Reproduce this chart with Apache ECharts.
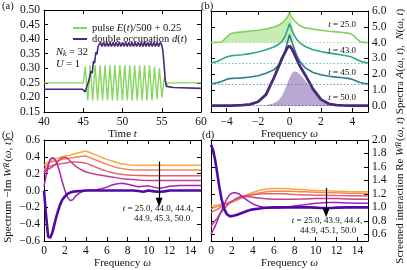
<!DOCTYPE html>
<html><head><meta charset="utf-8">
<script src="https://cdn.jsdelivr.net/npm/echarts@6/dist/echarts.min.js"></script>
<style>html,body{margin:0;padding:0;background:#fff}#c{width:407px;height:270px}</style>
</head><body><div id="c"></div>
<script>
// ---------- Panel (a) ----------
const pulseT = [40, 45.0, 45.25, 45.57, 45.88, 46.20, 46.51, 46.83, 47.14, 47.46, 47.77, 48.09, 48.40, 48.72, 49.03, 49.35, 49.66, 49.98, 50.29, 50.61, 50.92, 51.24, 51.55, 51.87, 52.18, 52.50, 52.81, 53.13, 53.44, 53.76, 54.07, 54.39, 54.70, 55.02, 55.33, 55.6, 55.85, 60];
const pulseV = [0.25, 0.25, 0.305, 0.19, 0.31, 0.19, 0.31, 0.19, 0.31, 0.19, 0.31, 0.19, 0.31, 0.19, 0.31, 0.19, 0.31, 0.19, 0.31, 0.19, 0.31, 0.19, 0.31, 0.19, 0.31, 0.19, 0.31, 0.19, 0.31, 0.19, 0.305, 0.195, 0.30, 0.20, 0.27, 0.24, 0.25, 0.25];
const dT = [40, 44.9, 45.1, 45.25, 45.4, 45.55, 45.7, 45.85, 46.0, 46.15, 46.3, 46.45, 46.6, 46.75, 46.9, 47.05,
  47.2, 47.4, 47.6, 47.8, 48.0, 48.2, 48.4, 48.6, 48.8, 49.0, 49.2, 49.4, 49.6, 49.8, 50.0, 50.2, 50.4, 50.6, 50.8, 51.0,
  51.2, 51.4, 51.6, 51.8, 52.0, 52.2, 52.4, 52.6, 52.8, 53.0, 53.2, 53.4, 53.6, 53.8, 54.0, 54.2, 54.4, 54.6, 54.8, 55.0,
  55.15, 55.3, 55.45, 55.6, 55.8, 56.5, 60];
const dV = [0.228, 0.228, 0.225, 0.219, 0.233, 0.228, 0.256, 0.25, 0.29, 0.283, 0.325, 0.318, 0.355, 0.348, 0.376, 0.37,
  0.389, 0.375, 0.389, 0.375, 0.389, 0.375, 0.389, 0.375, 0.389, 0.375, 0.389, 0.375, 0.389, 0.375, 0.389, 0.375, 0.389, 0.375, 0.389, 0.375,
  0.389, 0.375, 0.389, 0.375, 0.389, 0.375, 0.389, 0.375, 0.389, 0.375, 0.389, 0.375, 0.389, 0.375, 0.389, 0.375, 0.389, 0.375, 0.389, 0.38,
  0.36, 0.31, 0.26, 0.238, 0.235, 0.234, 0.231];
const ticksAx = [40, 45, 50, 55, 60];
const ticksAy = [0.15, 0.20, 0.25, 0.30, 0.35, 0.40, 0.45, 0.50];

// ---------- Panel (b) ----------
const omegaB = [-5, -4.6, -4.3, -4.1, -3.9, -3.7, -3.4, -3, -2.5, -2, -1.5, -1, -0.7, -0.5, -0.3, -0.15, 0, 0.15, 0.3, 0.5, 0.7, 1, 1.5, 2, 2.5, 3, 3.4, 3.7, 3.9, 4.1, 4.3, 4.5, 4.7, 5];
const specA25 = [4.0, 4.0, 4.05, 4.25, 4.45, 4.58, 4.64, 4.68, 4.73, 4.78, 4.86, 4.98, 5.1, 5.22, 5.4, 5.6, 5.87, 5.6, 5.4, 5.2, 5.05, 4.93, 4.85, 4.78, 4.72, 4.68, 4.64, 4.6, 4.55, 4.42, 4.22, 4.06, 4.01, 4.0];
const occN25  = [4.0, 4.0, 4.05, 4.25, 4.45, 4.58, 4.64, 4.68, 4.73, 4.78, 4.86, 4.98, 5.1, 5.22, 5.4, 5.6, 5.87, 5.45, 4.0, 4.0, 4.0, 4.0, 4.0, 4.0, 4.0, 4.0, 4.0, 4.0, 4.0, 4.0, 4.0, 4.0, 4.0, 4.0];
const specA43 = [2.7, 2.8, 2.95, 3.05, 3.12, 3.17, 3.2, 3.23, 3.3, 3.4, 3.55, 3.72, 3.88, 4.05, 4.35, 4.75, 5.2, 4.8, 4.45, 4.15, 3.95, 3.75, 3.55, 3.43, 3.33, 3.27, 3.2, 3.15, 3.1, 3.02, 2.93, 2.83, 2.76, 2.7];
const specA45 = [1.37, 1.45, 1.55, 1.63, 1.7, 1.73, 1.74, 1.76, 1.82, 1.9, 2.05, 2.27, 2.55, 2.85, 3.35, 3.95, 4.5, 4.05, 3.6, 3.1, 2.75, 2.4, 2.1, 1.96, 1.87, 1.81, 1.77, 1.73, 1.7, 1.63, 1.55, 1.47, 1.42, 1.38];
const specA50 = [0, 0, 0, 0, 0.01, 0.01, 0.02, 0.03, 0.08, 0.25, 0.7, 1.75, 2.45, 2.95, 3.35, 3.65, 3.8, 3.6, 3.3, 2.85, 2.45, 1.95, 1.05, 0.4, 0.12, 0.04, 0.02, 0.01, 0.01, 0, 0, 0, 0, 0];
const occN50  = [0, 0, 0, 0, 0, 0, 0, 0, 0, 0, 0.03, 0.15, 0.35, 0.6, 1.0, 1.4, 1.75, 2.05, 2.18, 2.12, 1.95, 1.6, 0.95, 0.38, 0.11, 0.03, 0.01, 0, 0, 0, 0, 0, 0, 0];
const offsetsB = [4.0, 2.667, 1.333, 0.0];
const labelsB = ['25.0', '43.0', '45.0', '50.0'];
const ticksBx = [-4, -2, 0, 2, 4];
const ticksBy = [0, 1, 2, 3, 4, 5, 6];

// ---------- Panels (c) and (d) ----------
const omegaW = [0, 0.2, 0.4, 0.6, 0.8, 1, 1.25, 1.5, 1.75, 2, 2.25, 2.5, 2.75, 3, 3.5, 4, 4.5, 5, 5.5, 6, 6.5, 7, 7.5, 8, 8.5, 9, 9.5, 10, 10.5, 11, 11.5, 12, 13, 14, 15];
const imW250 = [0.30,0.32,0.34,0.355,0.365,0.37,0.38,0.39,0.40,0.41,0.415,0.42,0.43,0.44,0.455,0.47,0.445,0.42,0.395,0.37,0.35,0.33,0.315,0.305,0.302,0.30,0.30,0.30,0.30,0.30,0.30,0.30,0.30,0.30,0.30];
const imW440 = [0.24,0.29,0.32,0.335,0.345,0.35,0.355,0.36,0.37,0.375,0.38,0.385,0.39,0.395,0.405,0.41,0.385,0.36,0.335,0.31,0.29,0.27,0.26,0.25,0.245,0.243,0.243,0.243,0.243,0.243,0.243,0.243,0.243,0.243,0.243];
const imW444 = [0.22,0.26,0.28,0.29,0.30,0.305,0.31,0.315,0.32,0.325,0.33,0.335,0.338,0.34,0.335,0.325,0.30,0.275,0.25,0.23,0.215,0.20,0.19,0.183,0.18,0.178,0.177,0.176,0.175,0.175,0.175,0.175,0.175,0.175,0.175];
const imW449 = [0.20,0.24,0.255,0.265,0.28,0.30,0.33,0.37,0.39,0.395,0.38,0.35,0.32,0.29,0.25,0.22,0.205,0.19,0.18,0.17,0.16,0.15,0.14,0.135,0.13,0.125,0.122,0.12,0.12,0.12,0.12,0.12,0.12,0.12,0.12];
const imW453 = [0.05,0.18,0.30,0.37,0.39,0.38,0.32,0.22,0.10,0.0,-0.08,-0.12,-0.11,-0.07,-0.02,0.0,0.005,0.01,0.02,0.04,0.065,0.08,0.085,0.075,0.06,0.045,0.05,0.055,0.04,0.025,0.035,0.05,0.06,0.06,0.06];
const imW500 = [0.0,-0.3,-0.55,-0.56,-0.5,-0.4,-0.28,-0.18,-0.11,-0.07,-0.04,-0.025,-0.015,-0.01,-0.005,0.0,0.0,0.0,0.0,0.0,0.0,0.0,0.0,0.0,0.0,-0.005,-0.015,0.0,-0.01,-0.015,-0.01,0.0,0.0,0.0,0.0];
const reW250 = [1.02,1.02,1.03,1.035,1.04,1.045,1.055,1.065,1.08,1.09,1.10,1.115,1.13,1.15,1.19,1.22,1.245,1.265,1.275,1.28,1.28,1.278,1.275,1.27,1.265,1.26,1.255,1.25,1.247,1.245,1.242,1.24,1.235,1.232,1.23];
const reW439 = [0.98,0.99,1.0,1.01,1.02,1.03,1.04,1.05,1.065,1.08,1.095,1.11,1.125,1.14,1.17,1.19,1.21,1.225,1.235,1.24,1.24,1.24,1.238,1.235,1.232,1.23,1.228,1.225,1.222,1.22,1.218,1.215,1.21,1.21,1.205];
const reW444 = [0.92,0.94,0.955,0.97,0.99,1.01,1.03,1.05,1.07,1.09,1.11,1.13,1.145,1.16,1.18,1.19,1.195,1.2,1.2,1.2,1.2,1.2,1.195,1.19,1.188,1.185,1.183,1.18,1.179,1.178,1.177,1.175,1.173,1.172,1.17];
const reW449 = [0.72,0.76,0.80,0.84,0.89,0.93,0.98,1.02,1.06,1.09,1.115,1.14,1.155,1.16,1.16,1.15,1.14,1.13,1.125,1.12,1.12,1.12,1.12,1.12,1.122,1.125,1.128,1.13,1.13,1.13,1.13,1.13,1.125,1.12,1.12];
const reW451 = [0.60,0.66,0.72,0.80,0.88,0.95,1.04,1.12,1.18,1.21,1.22,1.21,1.19,1.16,1.10,1.05,1.02,1.0,0.99,0.99,0.99,1.0,1.01,1.02,1.03,1.04,1.05,1.06,1.065,1.07,1.07,1.07,1.065,1.06,1.06];
const reW500 = [1.93,1.85,1.70,1.50,1.30,1.13,0.98,0.90,0.87,0.87,0.88,0.89,0.905,0.92,0.95,0.97,0.98,0.99,0.995,1.0,1.0,1.0,1.0,1.0,1.0,1.0,1.0,0.995,0.99,0.99,0.99,0.995,1.0,1.0,1.0];
const ticksWx = [0, 2, 4, 6, 8, 10, 12, 14];
const ticksCy = [-0.6, -0.4, -0.2, 0.0, 0.2, 0.4, 0.6];
const ticksDy = [0.6, 0.8, 1.0, 1.2, 1.4, 1.6, 1.8, 2.0];
const arrowC = [[11, 0.345], [11, -0.14]];
const arrowD = [[11, 1.29], [11, 0.92]];

// ---------- styling ----------
const FONT = '"Liberation Serif", "DejaVu Serif", serif';
const INK = '#111';
const plasma = ['#fca83c', '#f4845a', '#e0646e', '#c63f8c', '#a224b8', '#4f0aa6'];
const viridis = ['#7ed35a', '#2aa98a', '#2b7b8e', '#472a7a'];
const zip = (xs, ys) => xs.map((x, i) => [x, ys[i]]);
const fmt = d => v => (v < 0 ? '\u2212' : '') + Math.abs(v).toFixed(d);
const R = (size) => ({
  i: {fontFamily: FONT, fontStyle: 'italic', fontSize: size, color: INK},
  n: {fontFamily: FONT, fontSize: size, color: INK},
  sup: {fontFamily: FONT, fontStyle: 'italic', fontSize: size * 0.7, color: INK, verticalAlign: 'top', padding: [0, 1, 0, 0]},
  sub: {fontFamily: FONT, fontStyle: 'italic', fontSize: size * 0.7, color: INK, verticalAlign: 'bottom'}
});

function ax(gridIndex, position, min, max, ticks, showLabels, f, extra) {
  return Object.assign({
    type: 'value', gridIndex, position, min, max,
    axisLine: {show: true, onZero: false, lineStyle: {color: '#000', width: 1}},
    axisTick: {show: true, inside: true, length: 4, customValues: ticks, lineStyle: {color: '#000', width: 1}},
    axisLabel: {show: showLabels, customValues: ticks, formatter: f, fontFamily: FONT, fontSize: 11.5, color: INK, margin: 4},
    splitLine: {show: false}
  }, extra || {});
}
const nameStyle = (size) => ({fontFamily: FONT, fontSize: size, color: INK, rich: R(size)});

const grids = [
  {left: 44, top: 10, width: 157, height: 102},
  {left: 211, top: 11, width: 158, height: 101},
  {left: 44, top: 140, width: 157, height: 101},
  {left: 211, top: 140, width: 157, height: 101}
];

const xAxis = [
  ax(0, 'bottom', 40, 60, ticksAx, true, v => String(v), {name: 'Time {i|t}', nameLocation: 'middle', nameGap: 13, nameTextStyle: nameStyle(11)}),
  ax(0, 'top', 40, 60, ticksAx, false),
  ax(1, 'bottom', -5, 5, ticksBx, true, fmt(0), {name: 'Frequency {i|\u03c9}', nameLocation: 'middle', nameGap: 13, nameTextStyle: nameStyle(11)}),
  ax(1, 'top', -5, 5, ticksBx, false),
  ax(2, 'bottom', 0, 15, ticksWx, true, fmt(0), {name: 'Frequency {i|\u03c9}', nameLocation: 'middle', nameGap: 12, nameTextStyle: nameStyle(11)}),
  ax(2, 'top', 0, 15, ticksWx, false),
  ax(3, 'bottom', 0, 15, ticksWx, true, fmt(0), {name: 'Frequency {i|\u03c9}', nameLocation: 'middle', nameGap: 12, nameTextStyle: nameStyle(11)}),
  ax(3, 'top', 0, 15, ticksWx, false)
];
const yAxis = [
  ax(0, 'left', 0.15, 0.50, ticksAy, true, fmt(2)),
  ax(0, 'right', 0.15, 0.50, ticksAy, false),
  ax(1, 'right', -0.4, 6.0, ticksBy, true, fmt(1), {name: 'Spectra {i|A}({i|\u03c9}, {i|t}),  {i|N}({i|\u03c9}, {i|t})', nameLocation: 'middle', nameRotate: 90, nameGap: 27, nameTextStyle: nameStyle(11)}),
  ax(1, 'left', -0.4, 6.0, ticksBy, false),
  ax(2, 'left', -0.6, 0.6, ticksCy, true, fmt(1), {name: 'Spectrum \u2212Im {i|W}{sup|R}({i|\u03c9}, {i|t})', nameLocation: 'middle', nameRotate: 90, nameGap: 30, nameTextStyle: nameStyle(11)}),
  ax(2, 'right', -0.6, 0.6, ticksCy, false),
  ax(3, 'right', 0.5, 2.0, ticksDy, true, fmt(1), {name: 'Screened interaction Re {i|W}{sup|R}({i|\u03c9}, {i|t})', nameLocation: 'middle', nameRotate: 90, nameGap: 27, nameTextStyle: nameStyle(11)}),
  ax(3, 'left', 0.5, 2.0, ticksDy, false)
];

function line(name, xi, yi, xs, ys, color, width, extra) {
  return Object.assign({
    name, type: 'line', xAxisIndex: xi, yAxisIndex: yi, data: zip(xs, ys),
    showSymbol: false, symbol: 'none', smooth: false, animation: false, silent: true,
    lineStyle: {color, width}, itemStyle: {color}
  }, extra || {});
}
const dotted = (y, color) => ({silent: true, symbol: 'none', label: {show: false},
  lineStyle: {type: [1.5, 2], color, width: 1, opacity: 0.7}, data: [{yAxis: y}], animation: false});
const arrow = (pts) => ({silent: true, symbol: ['none', 'triangle'], symbolSize: [7, 9], label: {show: false},
  lineStyle: {type: 'solid', color: '#000', width: 1.2}, itemStyle: {color: '#000'}, animation: false,
  data: [[{coord: pts[0]}, {coord: pts[1]}]]});

const series = [
  line('pulse', 0, 0, pulseT, pulseV, '#86d75e', 1.4),
  line('double', 0, 0, dT, dV, '#472a7a', 1.6),
  // (b) fills
  line('N25', 2, 2, omegaB, occN25, 'rgba(0,0,0,0)', 0, {areaStyle: {color: '#c9ecb3', opacity: 1, origin: 4.0}}),
  line('N50', 2, 2, omegaB, occN50, 'rgba(0,0,0,0)', 0, {areaStyle: {color: '#b8a8d2', opacity: 1, origin: 0}}),
  line('A25', 2, 2, omegaB, specA25, viridis[0], 1.6, {markLine: dotted(offsetsB[0], viridis[0])}),
  line('A43', 2, 2, omegaB, specA43, viridis[1], 1.6, {markLine: dotted(offsetsB[1], viridis[1])}),
  line('A45', 2, 2, omegaB, specA45, viridis[2], 1.6, {markLine: dotted(offsetsB[2], viridis[2])}),
  line('A50', 2, 2, omegaB, specA50, viridis[3], 2.8, {markLine: dotted(offsetsB[3], viridis[3])}),
  // (c)
  line('c25', 4, 4, omegaW, imW250, plasma[0], 1.5),
  line('c440', 4, 4, omegaW, imW440, plasma[1], 1.5),
  line('c444', 4, 4, omegaW, imW444, plasma[2], 1.5),
  line('c449', 4, 4, omegaW, imW449, plasma[3], 1.5),
  line('c453', 4, 4, omegaW, imW453, plasma[4], 1.5),
  line('c500', 4, 4, omegaW, imW500, plasma[5], 2.6, {markLine: arrow(arrowC)}),
  // (d)
  line('d25', 6, 6, omegaW, reW250, plasma[0], 1.5),
  line('d439', 6, 6, omegaW, reW439, plasma[1], 1.5),
  line('d444', 6, 6, omegaW, reW444, plasma[2], 1.5),
  line('d449', 6, 6, omegaW, reW449, plasma[3], 1.5),
  line('d451', 6, 6, omegaW, reW451, plasma[4], 1.5),
  line('d500', 6, 6, omegaW, reW500, plasma[5], 2.6, {markLine: arrow(arrowD)})
];

function txt(x, y, text, size, align, extra) {
  return Object.assign({type: 'text', x, y, silent: true, z: 100,
    style: {text, fontFamily: FONT, fontSize: size, fill: INK, align: align || 'left', verticalAlign: 'middle', rich: R(size)}}, extra || {});
}
const tb = ['{i|t} = ' + labelsB[0], '{i|t} = ' + labelsB[1], '{i|t} = ' + labelsB[2], '{i|t} = ' + labelsB[3]];
const graphic = [
  txt(2, 6, '(a)', 10.5), txt(201, 6, '(b)', 10.5), txt(2, 135, '(c)', 10.5), txt(202, 135, '(d)', 10.5),
  txt(56, 52, '{i|N}{sub|k} = 32', 10.5), txt(56, 64, '{i|U} = 1', 10.5),
  txt(356, 25, tb[0], 9, 'right'), txt(356, 51, tb[1], 9, 'right'), txt(356, 73, tb[2], 9, 'right'), txt(356, 98, tb[3], 9, 'right'),
  txt(158, 209, '{i|t} = 25.0, 44.0, 44.4,', 9, 'center'), txt(162, 219, '44.9, 45.3, 50.0', 9, 'center'),
  txt(327, 221, '{i|t} = 25.0, 43.9, 44.4,', 9, 'center'), txt(328, 230.5, '44.9, 45.1, 50.0', 9, 'center')
];

const chart = echarts.init(document.getElementById('c'), null, {renderer: 'canvas'});
chart.setOption({
  animation: false,
  backgroundColor: '#fff',
  grid: grids,
  xAxis, yAxis, series, graphic,
  legend: {
    data: ['pulse', 'double'], orient: 'vertical', left: 68, top: 17.5, itemWidth: 14, itemHeight: 2, itemGap: 0,
    icon: 'rect', selectedMode: false,
    formatter: n => n === 'pulse' ? 'pulse {i|E}({i|t})/500 + 0.25' : 'double occupation {i|d}({i|t})',
    textStyle: {fontFamily: FONT, fontSize: 10.5, color: INK, lineHeight: 11, rich: R(10.5)}
  }
});
</script></body></html>
